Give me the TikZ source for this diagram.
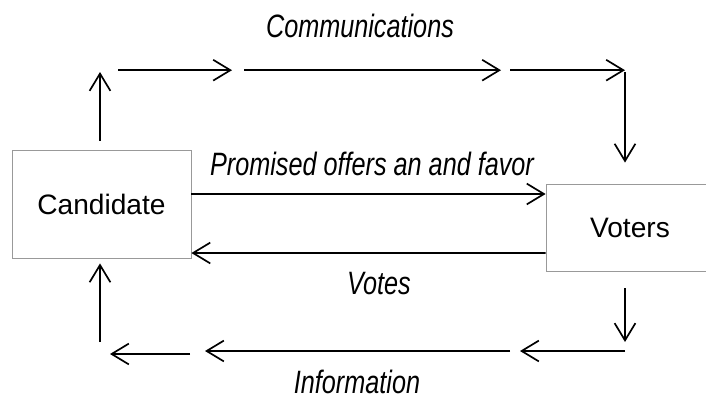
\documentclass[tikz,border=0pt]{standalone}
\usepackage{fontspec}
\setmainfont{Liberation Sans}
\newfontfamily\narrowit[FakeStretch=0.78]{Liberation Sans Italic}
\usepackage{tikz}
\usetikzlibrary{arrows.meta, positioning}
\tikzstyle{actor} = [draw=gray!80, rectangle, line width=0.6pt, inner sep=0pt, font=\fontsize{20}{24}\selectfont]
\tikzstyle{flowlabel} = [inner sep=0pt, anchor=base, font=\fontsize{23}{27}\narrowit]
\tikzstyle{arrw} = [line width=1.2pt, -{Straight Barb[length=4.3mm, width=5.2mm]}]

\begin{document}
\begin{tikzpicture}
    \useasboundingbox (0,0) rectangle (17.65,9.975);
    \clip (0,0) rectangle (17.65,9.975);

    \node (cand) [actor, minimum width=4.475cm, minimum height=2.7cm] at (2.5375,4.875) {Candidate};
    \node (vot) [actor, minimum width=4.2cm, minimum height=2.175cm] at (15.75,4.2875) {Voters};

    \node (lcom) [flowlabel] at (9.0,9.05) {Communications};
    \node (lprom) [flowlabel] at (9.3,5.6) {Promised offers an and favor};
    \node (lvote) [flowlabel] at (9.475,2.625) {Votes};
    \node (linfo) [flowlabel] at (8.925,0.14) {Information};

    % upper loop
    \coordinate (t0) at (2.5,8.175);
    \coordinate (t1a) at (2.95,8.22);
    \coordinate (t1b) at (5.8,8.22);
    \coordinate (t2a) at (6.1,8.22);
    \coordinate (t2b) at (12.525,8.22);
    \coordinate (t3a) at (12.75,8.22);
    \coordinate (t3b) at (15.625,8.22);
    \coordinate (r0) at (15.625,8.175);

    % lower loop
    \coordinate (d1) at (15.625,1.425);
    \coordinate (b1a) at (15.625,1.2);
    \coordinate (b1b) at (13.0,1.2);
    \coordinate (b2a) at (12.75,1.2);
    \coordinate (b2b) at (5.125,1.2);
    \coordinate (b3a) at (4.75,1.125);
    \coordinate (b3b) at (2.75,1.125);
    \coordinate (u0) at (2.5,1.425);

    \draw [arrw, shorten <=0.225cm] (cand.north -| t0) -- (t0);
    \draw [arrw] (t1a) -- (t1b);
    \draw [arrw] (t2a) -- (t2b);
    \draw [arrw] (t3a) -- (t3b);
    \draw [arrw, shorten >=0.525cm] (r0) -- (vot.north -| r0);

    \draw [arrw] ([yshift=0.25cm]cand.east) -- ([yshift=0.8375cm]vot.west);
    \draw [arrw] ([yshift=-0.6375cm]vot.west) -- ([yshift=-1.225cm]cand.east);

    \draw [arrw, shorten <=0.425cm] (vot.south -| d1) -- (d1);
    \draw [arrw] (b1a) -- (b1b);
    \draw [arrw] (b2a) -- (b2b);
    \draw [arrw] (b3a) -- (b3b);
    \draw [arrw, shorten >=0.125cm] (u0) -- (cand.south -| u0);
\end{tikzpicture}
\end{document}
